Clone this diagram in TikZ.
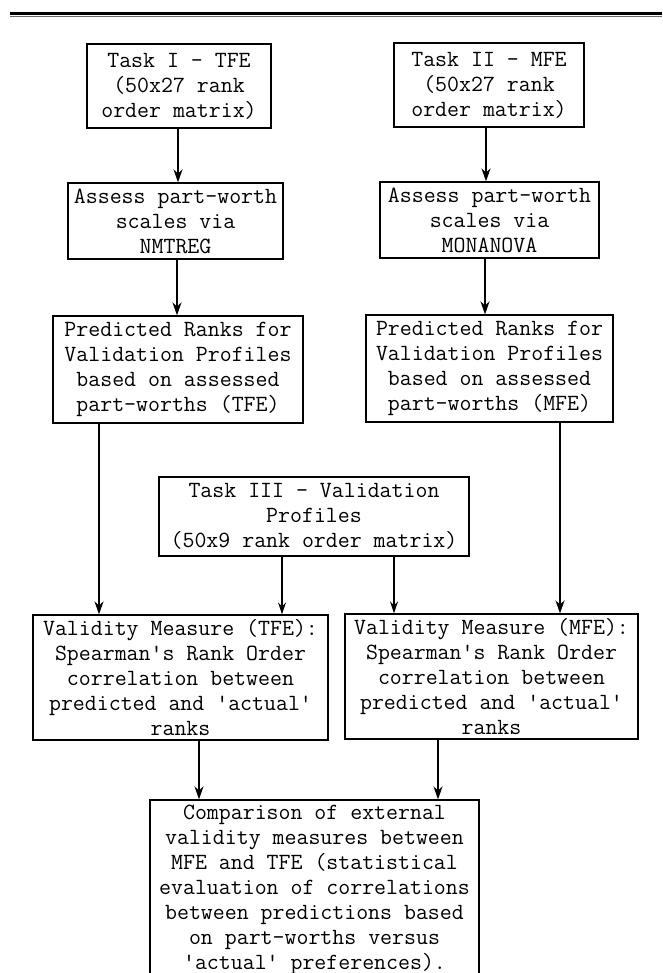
\documentclass[tikz,border=0pt]{standalone}
\usetikzlibrary{arrows.meta}
\begin{document}
\begin{tikzpicture}[x=1pt,y=-1pt,
  box/.style={draw, line width=1.2pt, inner sep=0pt, align=center,
              font=\fontsize{23.2}{25}\selectfont\ttfamily},
  arr/.style={line width=2pt, -{Stealth[length=13pt,width=9pt]}},
  tarr/.style={line width=1.5pt, -{Stealth[length=12pt,width=8pt]}}]
\useasboundingbox (0,0) rectangle (662,973);
\clip (0,0) rectangle (662,973);
% top rule
\draw[line width=3pt] (10,13.5) -- (662,13.5);
\draw[line width=1.2pt, black!60] (10,16.6) -- (662,16.6);
% boxes
\node[box, minimum width=184pt, minimum height=84pt] (T1) at (179,86)
  {Task I - TFE\\(50x27 rank\\order matrix)};
\node[box, minimum width=190pt, minimum height=84pt] (T2) at (489,85)
  {Task II - MFE\\(50x27 rank\\order matrix)};
\node[box, minimum width=215pt, minimum height=76pt] (A1) at (175.5,221)
  {Assess part-worth\\scales via\\NMTREG};
\node[box, minimum width=219pt, minimum height=76pt] (A2) at (489.5,220)
  {Assess part-worth\\scales via\\MONANOVA};
\node[box, minimum width=250pt, minimum height=107pt] (P1) at (178,369.5)
  {Predicted Ranks for\\Validation Profiles\\based on assessed\\part-worths (TFE)};
\node[box, minimum width=247pt, minimum height=107pt] (P2) at (489.5,368.5)
  {Predicted Ranks for\\Validation Profiles\\based on assessed\\part-worths (MFE)};
\node[box, minimum width=310pt, minimum height=79pt] (T3) at (314,516.5)
  {Task III - Validation\\Profiles\\(50x9 rank order matrix)};
\node[box, minimum width=295pt, minimum height=125pt] (V1) at (180.5,677.5)
  {Validity Measure (TFE):\\Spearman\textquotesingle s Rank Order\\correlation between\\predicted and \textquotesingle actual\textquotesingle\\ranks};
\node[box, minimum width=293pt, minimum height=125pt] (V2) at (491.5,676.5)
  {Validity Measure (MFE):\\Spearman\textquotesingle s Rank Order\\correlation between\\predicted and \textquotesingle actual\textquotesingle\\ranks};
\node[box, minimum width=329pt, minimum height=180pt] (C) at (314.5,890)
  {Comparison of external\\validity measures between\\MFE and TFE (statistical\\evaluation of correlations\\between predictions based\\on part-worths versus\\\textquotesingle actual\textquotesingle{} preferences).};
% connectors
\draw[arr] ([xshift=-1pt]T1.south) -- ([xshift=-1pt]T1.south |- A1.north);
\draw[arr] ([xshift=-3pt]T2.south) -- ([xshift=-3pt]T2.south |- A2.north);
\draw[arr] ([xshift=1.5pt]A1.south) -- ([xshift=1.5pt]A1.south |- P1.north);
\draw[arr] ([xshift=-4.5pt]A2.south) -- ([xshift=-4.5pt]A2.south |- P2.north);
\draw[arr] ([xshift=-79pt]P1.south) -- ([xshift=-79pt]P1.south |- V1.north);
\draw[arr] ([xshift=70.5pt]P2.south) -- ([xshift=70.5pt]P2.south |- V2.north);
\draw[tarr] ([xshift=-32pt]T3.south) -- ([xshift=-32pt]T3.south |- V1.north);
\draw[tarr] ([xshift=80pt]T3.south) -- ([xshift=80pt]T3.south |- V2.north);
\draw[arr] ([xshift=18.5pt]V1.south) -- ([xshift=18.5pt]V1.south |- C.north);
\draw[arr] ([xshift=-53.5pt]V2.south) -- ([xshift=-53.5pt]V2.south |- C.north);
\end{tikzpicture}
\end{document}
